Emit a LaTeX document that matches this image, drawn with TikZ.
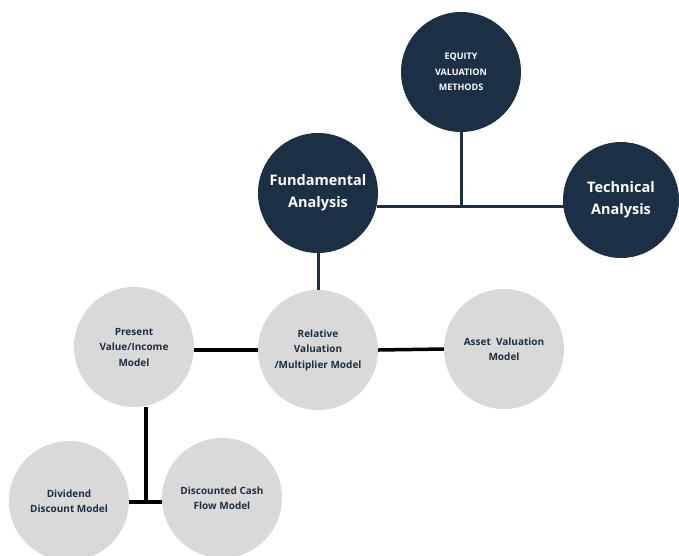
\documentclass[tikz,border=0pt]{standalone}
\usepackage{fontspec}
\setmainfont{Open Sans}
\definecolor{navy}{HTML}{1B2F45}
\definecolor{lgray}{HTML}{D9D9D9}
\begin{document}
\begin{tikzpicture}[x=1pt,y=-1pt,
  dark/.style={circle,fill=navy,minimum size=120pt,inner sep=0pt,text=white,align=center,font=\bfseries},
  light/.style={circle,fill=lgray,minimum size=120pt,inner sep=0pt,text=navy,align=center,font=\bfseries\fontsize{10}{15.5}\selectfont},
  navyline/.style={draw=navy,line width=3pt},
  blackline/.style={draw=black,line width=3.5pt}]
\useasboundingbox (0,0) rectangle (679,555);
\node[dark,font=\bfseries\fontsize{9}{15.5}\selectfont] (E) at (461,72) {EQUITY\\VALUATION\\METHODS};
\node[dark,font=\bfseries\fontsize{14.5}{22}\selectfont] (F) at (318,193) {Fundamental\\Analysis};
\node[dark,minimum size=116pt,font=\bfseries\fontsize{14.5}{22}\selectfont] (T) at (621,200) {Technical\\Analysis};
\node[light] (P) at (134,347) {Present\\Value/Income\\Model};
\node[light] (R) at (318,350) {Relative\\Valuation\\/Multiplier Model};
\node[light] (A) at (504,349) {Asset\ \ Valuation\\Model};
\node[light] (D) at (69,501) {Dividend\\Discount Model};
\node[light] (C) at (222,498) {Discounted Cash\\Flow Model};
\coordinate (J) at (461,206);
\coordinate (K) at (146,502);
\draw[navyline] (E.south) -- (J);
\draw[navyline] ([xshift=-1pt]F.east|-J) -- ([xshift=1pt]T.west|-J);
\draw[navyline] (F.south) -- (R.north);
\draw[blackline] (P.east|-R) -- (R.west);
\draw[blackline] (R.east) -- (A.west);
\draw[blackline] (P.south-|K) -- (K);
\draw[blackline] (D.east|-K) -- (C.west|-K);
\end{tikzpicture}
\end{document}
